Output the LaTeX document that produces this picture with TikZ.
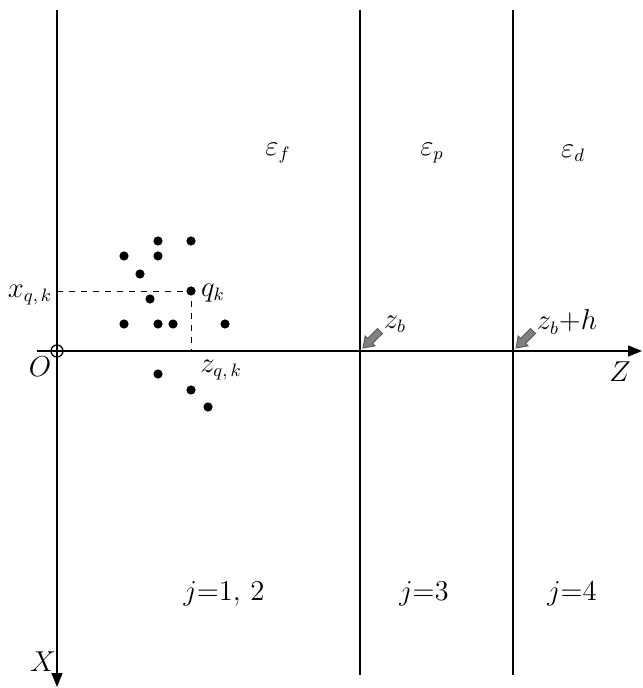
\documentclass[tikz,border=0pt]{standalone}
\usepackage{amsmath, amssymb}
\usepackage{tikz}
\usetikzlibrary{arrows.meta}

\begin{document}
\begin{tikzpicture}[x=0.5pt, y=-0.5pt, >={Triangle[length=7pt,width=5.5pt]},
    font=\fontsize{13.5}{16}\selectfont,
    axe/.style={line width=0.65pt},
    wall/.style={line width=1.2pt},
    pt/.style={circle, fill, inner sep=0pt, minimum size=4.6pt},
    pointer/.style={draw=black!65, fill=gray, line width=0.45pt, line join=miter}]
            \useasboundingbox (0,0) rectangle (642,688);
            
            \coordinate (xtop) at (57,10);
            \coordinate (xend) at (57,687);
            \coordinate (zbeg) at (37,351);
            \coordinate (zend) at (642,351);
            \coordinate (b1) at (360,10);
            \coordinate (b1e) at (360,675);
            \coordinate (b2) at (513,10);
            \coordinate (b2e) at (513,675);
            
            \draw[axe,->] (xtop) -- (xend);
            \draw[axe,->] (zbeg) -- (zend);
            \draw[wall] (b1) -- (b1e);
            \draw[wall] (b2) -- (b2e);
            
            % origin
            \node[circle, draw, fill=white, minimum size=6pt, inner sep=0pt, line width=0.65pt] (O) at (57,351) {};
            \draw[line width=0.65pt] (O.north) -- (O.south);
            \draw[line width=0.65pt] (O.west) -- (O.east);
            
            % charges
            \foreach \x/\y [count=\i] in {158/241, 191/241, 124/256, 158/256, 140/274,
                150/299, 124/324, 158/324, 173/324, 225/324, 158/374, 191/390, 208/407}
                \node[pt] (d\i) at (\x,\y) {};
            \node[pt] (qk) at (191,291) {};
            
            \coordinate (xq) at (57,291);
            \coordinate (zq) at (191,351);
            \draw[dashed] (xq) -- (qk.center) -- (zq);
            
            \node (xqk) at (30,295) {$x_{q,\,k}$};
            \node (qkl) at (213,293) {$q_k$};
            \node (Ol) at (40,367) {$O$};
            \node (zqk) at (221,370) {$z_{q,\,k}$};
            \node (zbl) at (395,324) {$z_b$};
            \node (zbhl) at (567,322) {$z_b{+}h$};
            \node (Zl) at (620,372) {$Z$};
            \node (Xl) at (43,662) {$X$};
            
            \node (ef) at (278,153) {$\varepsilon_f$};
            \node (ep) at (432,153) {$\varepsilon_p$};
            \node (ed) at (573,153) {$\varepsilon_d$};
            
            \node (j12) at (224,594) {$j{=}1,\,2$};
            \node (j3) at (424,594) {$j{=}3$};
            \node (j4) at (572,594) {$j{=}4$};
            
            % block arrows at the interfaces
            \coordinate (pb) at (363,348);
            \coordinate (pbh) at (516,348);
            \foreach \p in {pb, pbh}
                \draw[pointer] (\p) -- +(12,-2.1) -- +(9.6,-4.6) -- +(19.5,-14.5)
                    -- +(14.5,-19.5) -- +(4.6,-9.6) -- +(2.1,-12) -- cycle;
        \end{tikzpicture}
\end{document}
